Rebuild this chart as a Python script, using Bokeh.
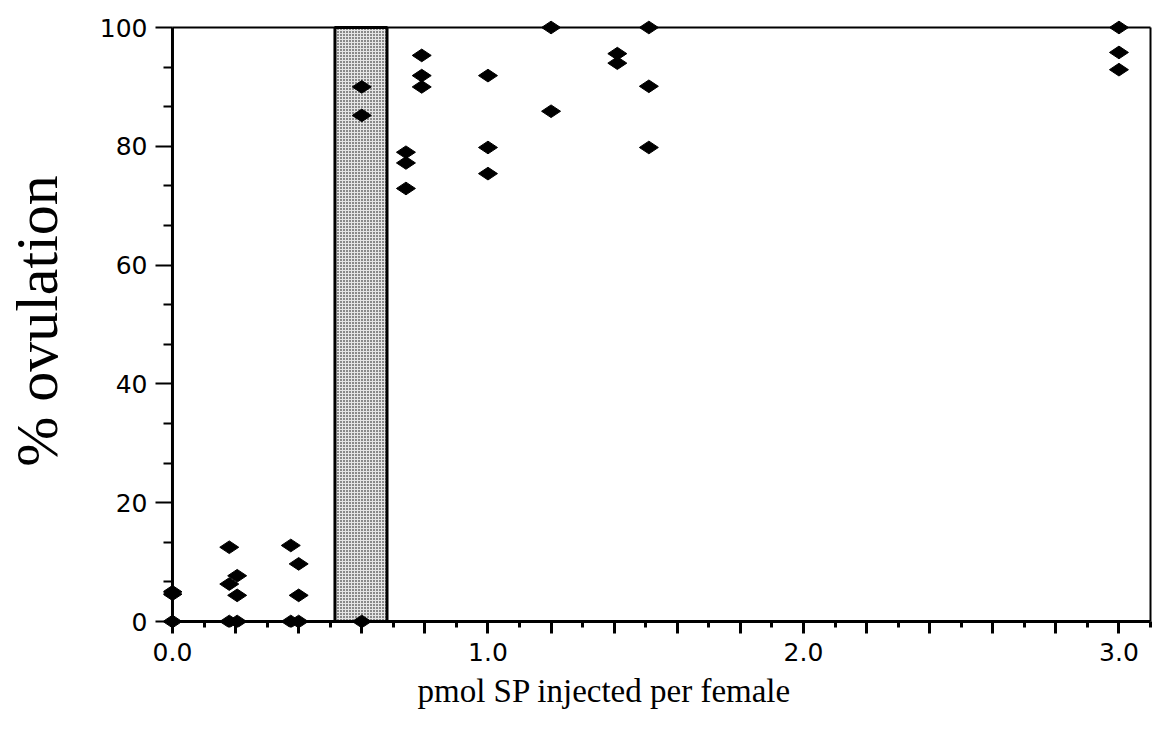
import math
from bokeh.plotting import figure
from bokeh.models import Range1d, FixedTicker, LinearAxis, Title, CustomJSTickFormatter
from bokeh.embed import file_html
from bokeh.resources import INLINE

# ---------------- data ----------------
dose = [0.0, 0.0, 0.0,
        0.18, 0.18, 0.18,
        0.205, 0.205, 0.205,
        0.375, 0.375,
        0.40, 0.40, 0.40,
        0.60, 0.60, 0.60,
        0.74, 0.74, 0.74,
        0.79, 0.79, 0.79,
        1.0, 1.0, 1.0,
        1.2, 1.2,
        1.41, 1.41,
        1.51, 1.51, 1.51,
        3.0, 3.0, 3.0]
ovulation = [0.0, 4.6, 5.0,
             12.5, 6.3, 0.0,
             7.7, 4.4, 0.0,
             12.8, 0.0,
             9.7, 4.4, 0.0,
             90.0, 85.2, 0.0,
             79.0, 77.2, 72.9,
             95.3, 91.9, 90.0,
             91.9, 79.8, 75.4,
             100.0, 85.9,
             95.6, 94.0,
             100.0, 90.1, 79.8,
             100.0, 95.8, 92.9]

band_range = [0.515, 0.68]          # shaded threshold band (pmol)

x_major = [round(0.2 * i, 1) for i in range(16)]
x_minor = [round(0.1 + 0.2 * i, 1) for i in range(16)]
x_label_values = [0.0, 1.0, 2.0, 3.0]
x_label_texts = ["0.0", "1.0", "2.0", "3.0"]
y_major = [0, 20, 40, 60, 80, 100]
y_minor = [round(20 * i + 20 * k / 3.0, 3) for i in range(5) for k in (1, 2)]

x_min, x_max = 0.0, 3.1
y_min, y_max = 0.0, 100.0

# --------------- layout (pixels) ---------------
W, H = 1155, 736
frame_left, frame_right = 161, 1153
frame_top, frame_bottom = 14, 627
x0_px, x31_px, y0_px, y100_px = 170, 1150, 621, 27

kx = (x31_px - x0_px) / (x_max - x_min)
ky = (y0_px - y100_px) / (y_max - y_min)
x_start = x_min - (x0_px - frame_left) / kx
x_end = x_max + (frame_right - x31_px) / kx
y_start = y_min - (frame_bottom - y0_px) / ky
y_end = y_max + (y100_px - frame_top) / ky

p = figure(width=W, height=H,
           x_range=Range1d(x_start, x_end), y_range=Range1d(y_start, y_end),
           output_backend="svg", toolbar_location=None,
           x_axis_location=None, y_axis_location=None,
           min_border_left=frame_left, min_border_right=W - frame_right,
           min_border_top=frame_top, min_border_bottom=H - frame_bottom)
p.outline_line_color = None
p.background_fill_color = "white"
p.border_fill_color = "white"
for g in p.grid:
    g.visible = False

tick_font = "DejaVu Sans"
tick_size = "25px"

# left axis (line drawn separately at x = 0)
yaxis = LinearAxis(ticker=FixedTicker(ticks=y_major, minor_ticks=y_minor))
yaxis.axis_line_color = None
yaxis.major_tick_out = 8
yaxis.major_tick_in = 9
yaxis.minor_tick_out = 0
yaxis.minor_tick_in = 9
yaxis.major_tick_line_width = 2
yaxis.minor_tick_line_width = 2
yaxis.major_label_standoff = 8
yaxis.major_label_text_font = tick_font
yaxis.major_label_text_font_size = tick_size
yaxis.major_label_text_color = "black"
yaxis.axis_label = "% ovulation"
yaxis.axis_label_standoff = 27
yaxis.axis_label_text_font = "Liberation Serif"
yaxis.axis_label_text_font_size = "60px"
yaxis.axis_label_text_font_style = "normal"
yaxis.axis_label_text_color = "black"
p.add_layout(yaxis, "left")

# bottom axis (line drawn separately at y = 0)
xaxis = LinearAxis(ticker=FixedTicker(ticks=x_major, minor_ticks=x_minor))
xaxis.formatter = CustomJSTickFormatter(
    args=dict(vals=x_label_values, labels=x_label_texts),
    code="for (let i = 0; i < vals.length; i++) { if (Math.abs(tick - vals[i]) < 1e-6) return labels[i]; } return '';")
xaxis.axis_line_color = None
xaxis.major_tick_out = 6
xaxis.major_tick_in = 6
xaxis.minor_tick_out = 0
xaxis.minor_tick_in = 6
xaxis.major_tick_line_width = 3
xaxis.minor_tick_line_width = 3
xaxis.major_label_standoff = 9
xaxis.major_label_text_font = tick_font
xaxis.major_label_text_font_size = tick_size
xaxis.major_label_text_color = "black"
p.add_layout(xaxis, "below")

# x-axis title, placed under the tick labels
p.add_layout(Title(text="pmol SP injected per female", align="left", offset=254, standoff=14,
                   text_font="Liberation Serif", text_font_size="33px",
                   text_font_style="normal", text_color="black"), "below")

# shaded band
p.quad(left=[band_range[0]], right=[band_range[1]], bottom=[y_min], top=[y_max],
       fill_color="#e6e6e6", hatch_pattern="dot", hatch_scale=3, hatch_color="black",
       hatch_weight=1.5, line_color="black", line_width=3)

# frame lines: left, bottom (axes), top, right
p.segment(x0=[x_min, x_min, x_min, x_max], y0=[y_min, y_min, y_max, y_min],
          x1=[x_min, x_max, x_max, x_max], y1=[y_max, y_min, y_max, y_max],
          line_color="black", line_width=[3, 3, 2, 2])

# data points
p.scatter(dose, ovulation, marker="diamond", size=19, angle=math.pi / 2,
          fill_color="black", line_color="black")

open("out.html", "w").write(file_html(p, INLINE))
